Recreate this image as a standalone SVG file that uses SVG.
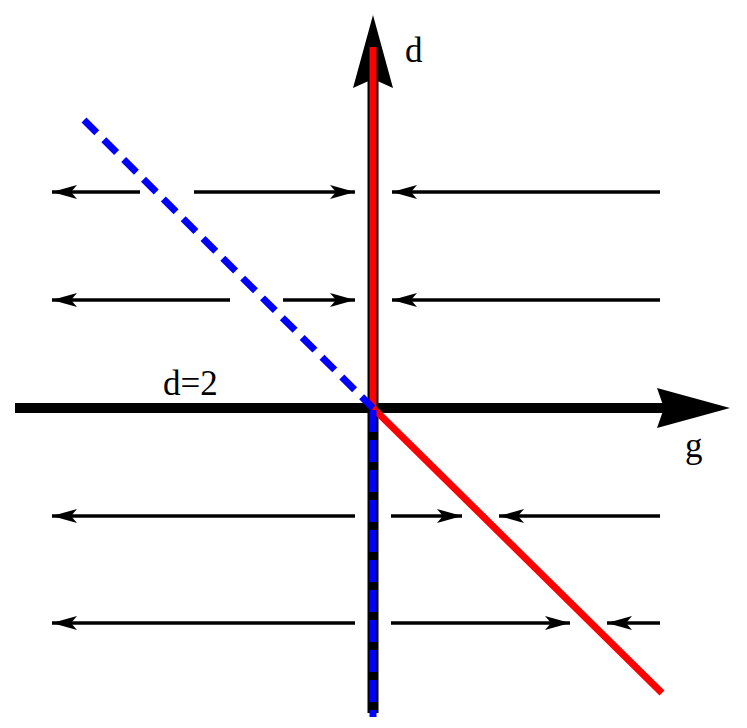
<svg xmlns="http://www.w3.org/2000/svg" width="747" height="728" viewBox="0 0 747 728">
<style>
.thin{stroke:#000;stroke-width:3.5;fill:none}
.lbl{font-family:'Liberation Serif','Times New Roman',serif;font-size:35px;fill:#000}
</style>
<defs>
<marker id="ah" markerUnits="userSpaceOnUse" markerWidth="30" markerHeight="20" refX="25" refY="0" viewBox="0 -10 30 20" orient="auto" overflow="visible">
<path d="M0,-7 L25,0 L0,7 L6,0 Z" fill="#000"/>
</marker>
</defs>
<rect width="747" height="728" fill="#fff"/>
<g id="axes">
<line x1="15" y1="408" x2="670" y2="408" stroke="#000" stroke-width="10"/>
<polygon points="730,408 657,388 664,408 657,428" fill="#000"/>
<line x1="373" y1="60" x2="373" y2="713" stroke="#000" stroke-width="11"/>
<polygon points="373,15 353,88 373,79 393,88" fill="#000"/>
</g>
<g id="curves">
<line x1="373" y1="47" x2="373" y2="408" stroke="#f00" stroke-width="7"/>
<line x1="373" y1="408" x2="662" y2="693" stroke="#f00" stroke-width="7"/>
<line x1="373" y1="410" x2="373" y2="717" stroke="#00f" stroke-width="7" stroke-dasharray="22 8"/>
<line x1="84" y1="120" x2="373" y2="408" stroke="#00f" stroke-width="7" stroke-dasharray="18 10"/>
</g>
<g id="connectors">
<line class="thin" x1="140" y1="192" x2="52" y2="192" marker-end="url(#ah)"/>
<line class="thin" x1="194" y1="192" x2="355" y2="192" marker-end="url(#ah)"/>
<line class="thin" x1="660" y1="192" x2="392" y2="192" marker-end="url(#ah)"/>
<line class="thin" x1="230" y1="300" x2="52" y2="300" marker-end="url(#ah)"/>
<line class="thin" x1="283" y1="300" x2="355" y2="300" marker-end="url(#ah)"/>
<line class="thin" x1="660" y1="300" x2="392" y2="300" marker-end="url(#ah)"/>
<line class="thin" x1="355" y1="516" x2="52" y2="516" marker-end="url(#ah)"/>
<line class="thin" x1="391" y1="516" x2="462" y2="516" marker-end="url(#ah)"/>
<line class="thin" x1="660" y1="516" x2="499" y2="516" marker-end="url(#ah)"/>
<line class="thin" x1="355" y1="623" x2="52" y2="623" marker-end="url(#ah)"/>
<line class="thin" x1="391" y1="623" x2="570" y2="623" marker-end="url(#ah)"/>
<line class="thin" x1="660" y1="623" x2="607" y2="623" marker-end="url(#ah)"/>
</g>
<g id="labels">
<text class="lbl" x="405" y="62">d</text>
<text class="lbl" x="685" y="457">g</text>
<text class="lbl" x="163" y="395">d=2</text>
</g>
</svg>
